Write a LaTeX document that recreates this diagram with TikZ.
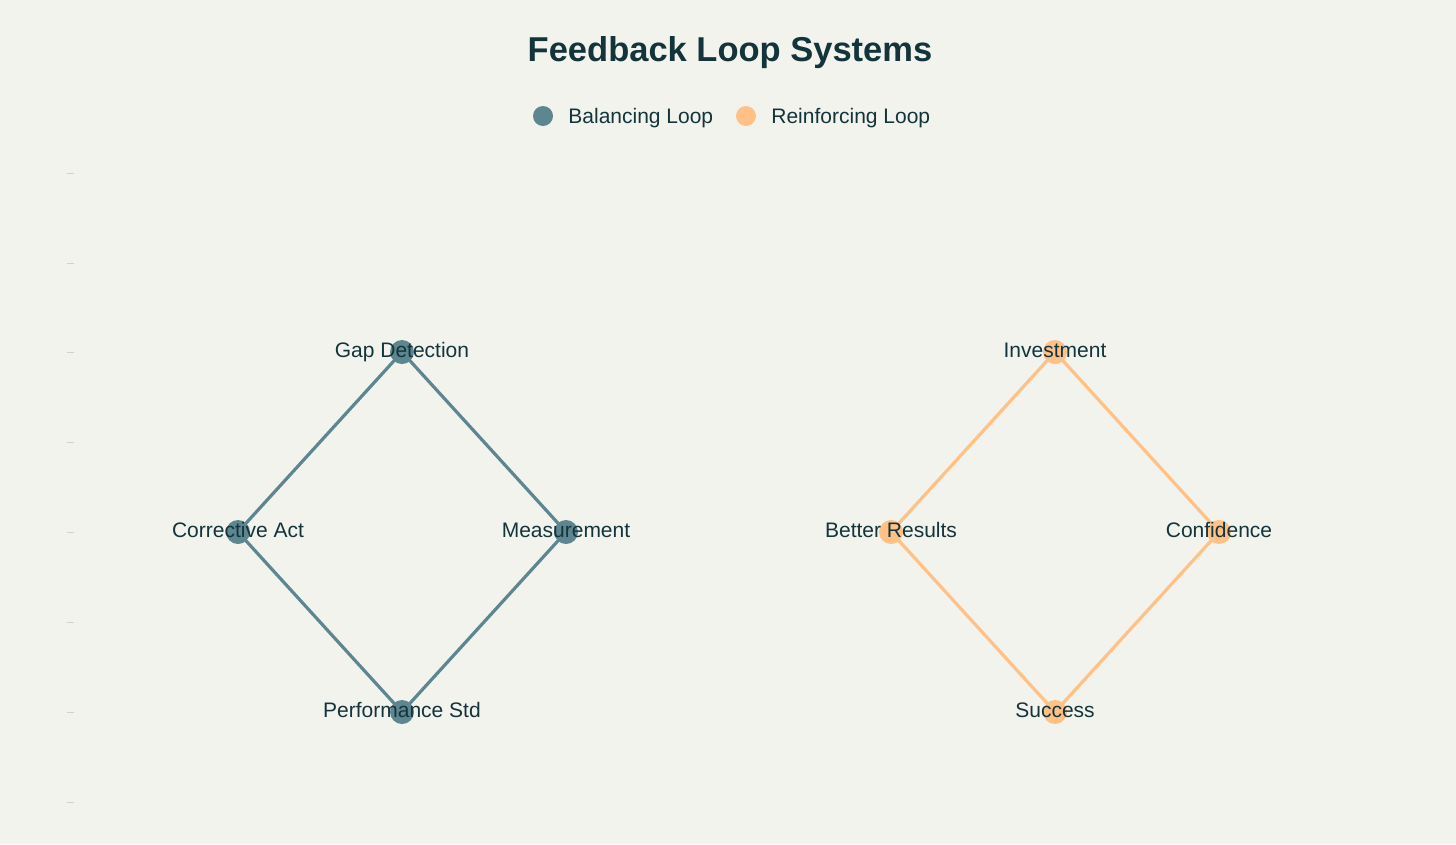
\documentclass[tikz,border=0pt]{standalone}
\usepackage{fontspec}
\setmainfont{Liberation Sans}
\usetikzlibrary{positioning}

\definecolor{bgcol}{HTML}{F3F3EE}
\definecolor{balcol}{HTML}{5E8690}
\definecolor{reicol}{HTML}{FFC185}
\definecolor{txtcol}{HTML}{13343B}
\definecolor{tickcol}{HTML}{D3D3CE}

\begin{document}
\begin{tikzpicture}[x=1pt,y=-1pt,
  dot/.style={circle,inner sep=0pt,minimum size=24pt},
  lbl/.style={text=txtcol,font=\fontsize{21}{24}\selectfont,inner sep=0pt,
    text height=15pt,text depth=4pt},
  link/.style={line width=3.2pt}]
  % --- canvas ---
  \fill[bgcol] (0,0) rectangle (1456,844);
  \useasboundingbox (0,0) rectangle (1456,844);

  % --- diamond size ---
  \def\dx{164}  % half width
  \def\dy{180}  % half height

  % --- title and legend ---
  \node[text=txtcol,font=\bfseries\fontsize{34.5}{40}\selectfont] (title) at (730,53) {Feedback Loop Systems};
  \node[dot,fill=balcol,minimum size=20pt] (legbal) at (543,116) {};
  \node[lbl,anchor=west,right=15pt of legbal,yshift=-2pt] (legbaltxt) {Balancing Loop};
  \node[dot,fill=reicol,minimum size=20pt] (legrei) at (746,116) {};
  \node[lbl,anchor=west,right=15pt of legrei,yshift=-2pt] (legreitxt) {Reinforcing Loop};

  % --- faint ticks on the left ---
  \foreach \j in {0,...,7} {
    \draw[tickcol,line width=0.8pt] (67,173+\j*89.9) -- (74,173+\j*89.9);
  }

  % --- balancing loop ---
  \node[dot,fill=balcol] (gap)  at (402,352) {};
  \node[dot,fill=balcol] (meas) at (402+\dx,352+\dy) {};
  \node[dot,fill=balcol] (perf) at (402,352+2*\dy) {};
  \node[dot,fill=balcol] (corr) at (402-\dx,352+\dy) {};
  \draw[link,balcol] (gap.center) -- (meas.center) -- (perf.center) -- (corr.center) -- (gap.center);

  % --- reinforcing loop ---
  \node[dot,fill=reicol] (inv)  at (1055,352) {};
  \node[dot,fill=reicol] (conf) at (1055+\dx,352+\dy) {};
  \node[dot,fill=reicol] (succ) at (1055,352+2*\dy) {};
  \node[dot,fill=reicol] (bett) at (1055-\dx,352+\dy) {};
  \draw[link,reicol] (inv.center) -- (conf.center) -- (succ.center) -- (bett.center) -- (inv.center);

  % --- labels on top ---
  \node[lbl] (gaptxt)  at (gap)  {Gap Detection};
  \node[lbl] (meastxt) at (meas) {Measurement};
  \node[lbl] (perftxt) at (perf) {Performance Std};
  \node[lbl] (corrtxt) at (corr) {Corrective Act};
  \node[lbl] (invtxt)  at (inv)  {Investment};
  \node[lbl] (conftxt) at (conf) {Confidence};
  \node[lbl] (succtxt) at (succ) {Success};
  \node[lbl] (betttxt) at (bett) {Better Results};
\end{tikzpicture}
\end{document}
